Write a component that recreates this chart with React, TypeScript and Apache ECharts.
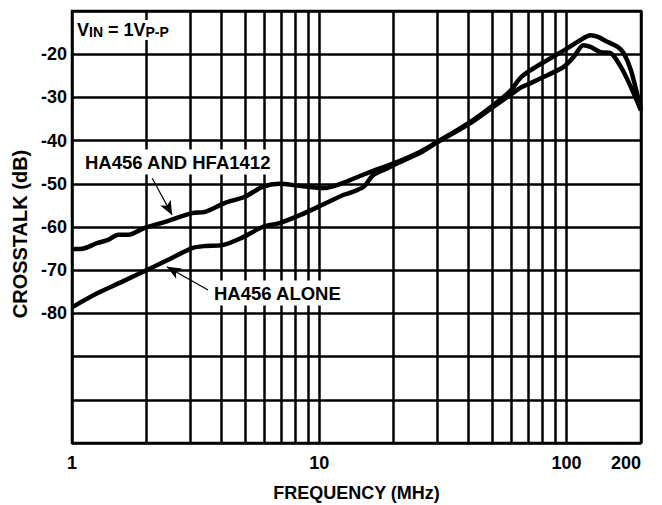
import React, { useEffect, useRef } from 'react';
import * as echarts from 'echarts';

// HA456 AND HFA1412
const freqA = [1, 1.08, 1.27, 1.4, 1.54, 1.69, 1.97, 2.38, 3.06, 3.45, 4.16, 5.0, 5.9, 6.9, 8.4, 10.4, 11.8, 14.6, 17, 20.6, 25.6, 30, 40.7, 50.5, 59.3, 65, 71.6, 84, 101, 114, 125, 134, 147, 161, 170, 182, 200];
const dbA = [-65.1, -65.1, -63.7, -63.0, -61.8, -61.8, -60.2, -58.8, -56.8, -56.5, -54.4, -53, -50.7, -50, -50.5, -51, -50.3, -48.2, -46.7, -45, -42.6, -40.3, -35.7, -31.8, -28.5, -25.5, -23.7, -21.3, -18.6, -16.7, -15.6, -16, -17.2, -18.3, -19.7, -23.7, -33];

// HA456 ALONE
const freqB = [1, 1.27, 1.59, 2.0, 2.45, 3.06, 3.45, 4.05, 4.9, 5.9, 6.9, 8.4, 10.1, 12.5, 13.3, 15.1, 16.5, 18.9, 20.6, 25.6, 30, 40.7, 50.5, 59.3, 65, 71.6, 84, 97, 107, 117, 125, 137, 150, 166, 182, 200];
const dbB = [-78.6, -75.3, -72.7, -70, -67.6, -64.9, -64.4, -64.2, -62.4, -60, -59.1, -57.2, -55.1, -52.6, -52.1, -50.7, -48, -46.4, -45.3, -42.8, -40.4, -36, -32.2, -29.4, -27.8, -26.7, -24.8, -23, -20.6, -17.9, -18.3, -19.5, -19.7, -23, -27.6, -33];

const minorGridFreqs = [2, 3, 4, 5, 6, 7, 8, 9, 20, 30, 40, 50, 60, 70, 80, 90];
const yLabelMin = -80;
const yLabelMax = -20;

// annotation arrows [tail, tip] in data units
const arrowA = [[2.11, -48.7], [2.54, -57.2]];
const arrowB = [[3.55, -74.6], [2.42, -69.2]];

const FONT = '"Liberation Sans", Arial, Helvetica, sans-serif';

export default function App() {
  const ref = useRef<HTMLDivElement>(null);
  useEffect(() => {
    document.body.style.margin = '0';
    const chart = echarts.init(ref.current!, null, { renderer: 'svg' });
    const arrowLine = (a: number[][]) => ({
      silent: true,
      symbol: ['none', 'arrow'],
      symbolSize: [9, 14],
      label: { show: false },
      emphasis: { disabled: true },
      lineStyle: { color: '#000', width: 1.2, type: 'solid' },
      data: [[{ coord: a[0] }, { coord: a[1] }]],
    });
    const boldText = { color: '#000', fontWeight: 'bold' as const, fontFamily: FONT };
    chart.setOption({
      animation: false,
      backgroundColor: '#fff',
      grid: {
        left: 72, top: 11, right: 21, bottom: 62,
        outerBoundsMode: 'none', containLabel: false,
        show: true, borderColor: '#000', borderWidth: 2.5, backgroundColor: 'transparent',
      },
      xAxis: {
        type: 'log', logBase: 10, min: 1, max: 200,
        name: 'FREQUENCY (MHz)', nameLocation: 'middle', nameGap: 41,
        nameTextStyle: { ...boldText, fontSize: 18 },
        axisLine: { show: false }, axisTick: { show: false },
        axisLabel: {
          ...boldText, fontSize: 18, margin: 11,
          showMinLabel: true, showMaxLabel: true, alignMaxLabel: 'right',
          formatter: (v: number) => String(Math.round(v)),
        },
        splitLine: { show: true, lineStyle: { color: '#000', width: 2.5 } },
      },
      yAxis: {
        type: 'value', min: -110, max: -10, interval: 10,
        name: 'CROSSTALK (dB)', nameLocation: 'middle', nameGap: 41,
        nameTextStyle: { ...boldText, fontSize: 20, padding: [0, 14, 0, 0] },
        axisLine: { show: false }, axisTick: { show: false },
        axisLabel: {
          ...boldText, fontSize: 18, margin: 5,
          formatter: (v: number) => (v >= yLabelMin && v <= yLabelMax ? String(v) : ''),
        },
        splitLine: { show: true, lineStyle: { color: '#000', width: 2.5 } },
      },
      series: [
        {
          type: 'line', data: [], z: 1, silent: true,
          markLine: {
            silent: true, symbol: 'none', label: { show: false }, emphasis: { disabled: true },
            lineStyle: { color: '#000', width: 2.5, type: 'solid' },
            data: minorGridFreqs.map((f) => ({ xAxis: f })),
          },
        },
        {
          name: 'HA456 AND HFA1412', type: 'line', z: 3,
          data: freqA.map((f, i) => [f, dbA[i]]),
          showSymbol: false, smooth: 0.3,
          lineStyle: { color: '#000', width: 4.5 },
          markLine: arrowLine(arrowA),
        },
        {
          name: 'HA456 ALONE', type: 'line', z: 3,
          data: freqB.map((f, i) => [f, dbB[i]]),
          showSymbol: false, smooth: 0.3,
          lineStyle: { color: '#000', width: 4.5 },
          markLine: arrowLine(arrowB),
        },
      ],
      graphic: [
        {
          type: 'text', x: 75, y: 20, z: 100,
          style: {
            text: '{v|V}{s|IN}{v| = 1V}{s|P-P}',
            backgroundColor: '#fff', padding: [1, 2],
            rich: {
              v: { ...boldText, fontSize: 18, lineHeight: 18, verticalAlign: 'top' },
              s: { ...boldText, fontSize: 14, lineHeight: 18, verticalAlign: 'top', padding: [4, 0, 0, 0] },
            },
          },
        },
        {
          type: 'text', x: 82, y: 162, z: 100,
          style: {
            text: 'HA456 AND HFA1412', ...boldText, fontSize: 18.5,
            verticalAlign: 'middle', align: 'left',
            backgroundColor: '#fff', padding: [3, 3],
          },
        },
        {
          type: 'text', x: 211, y: 293, z: 100,
          style: {
            text: 'HA456 ALONE', ...boldText, fontSize: 18.5,
            verticalAlign: 'middle', align: 'left',
            backgroundColor: '#fff', padding: [3, 3],
          },
        },
      ],
    });
    return () => chart.dispose();
  }, []);
  return <div ref={ref} style={{ width: 662, height: 505 }} />;
}
